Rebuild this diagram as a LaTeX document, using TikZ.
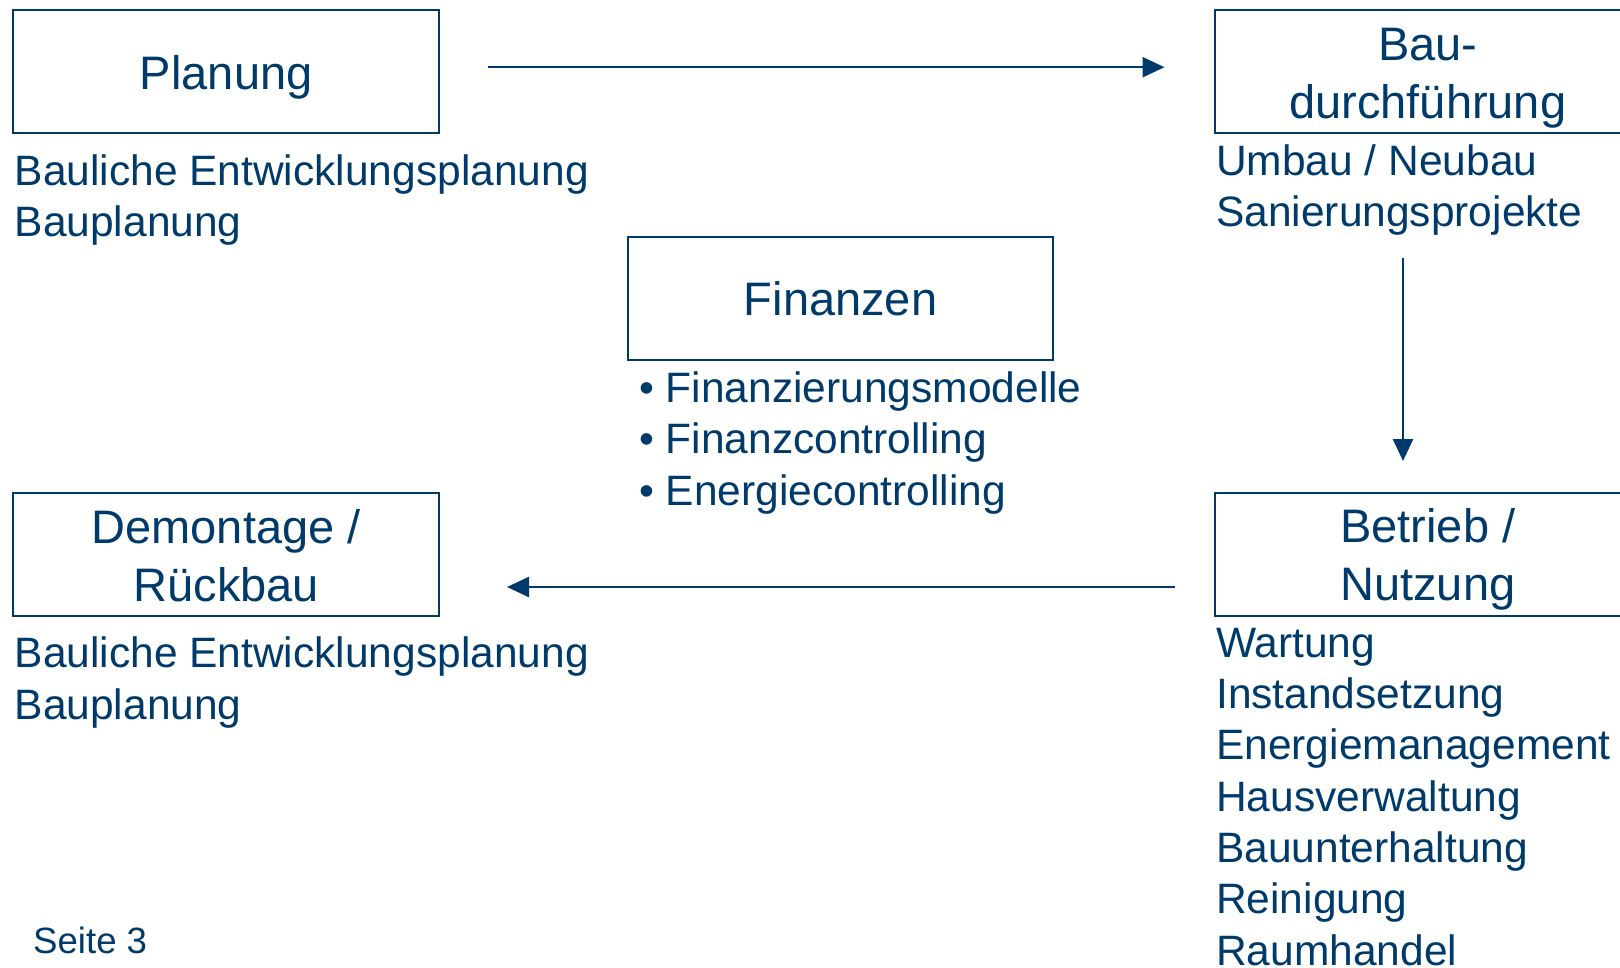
\documentclass[tikz,border=0pt]{standalone}
\usepackage{fontspec}
\setmainfont{Liberation Sans}
\usetikzlibrary{arrows.meta}
\definecolor{navy}{HTML}{003A6A}
\newcommand\bxs{\rule[-0.19em]{0pt}{1.14em}}
\begin{document}
\begin{tikzpicture}[x=1pt,y=-1pt,
  box/.style={draw=navy, line width=2pt, minimum width=425.6pt, minimum height=123pt, inner sep=0pt, align=center, text=navy, font=\fontsize{47}{58}\selectfont},
  lst/.style={anchor=base west, align=left, text=navy, inner sep=0pt, font=\fontsize{42.5}{51.3}\selectfont},
  arr/.style={draw=navy, line width=2.5pt, -{Triangle[length=22pt,width=20pt]}}]
\useasboundingbox (0,0) rectangle (1620,967);
\clip (0,0) rectangle (1620,967);
% boxes
\node[box] (plan) at (226.2,71.8) {\bxs Planung};
\node[box] (bau) at (1427.8,71.8) {\bxs Bau-\\\bxs durchführung};
\node[box] (fin) at (840.6,298.1) {\bxs Finanzen};
\node[box] (dem) at (226.2,554.3) {\bxs Demontage /\\\bxs Rückbau};
\node[box] (betr) at (1427.8,554.3) {\bxs Betrieb /\\\bxs Nutzung};
% lists (base anchor = baseline of the last line)
\node[lst] (planlist) at (14.5,236.8) {Bauliche Entwicklungsplanung\\Bauplanung};
\node[lst] (baulist) at (1216,226.3) {Umbau / Neubau\\Sanierungsprojekte};
\node[lst] (finlist) at (639,505) {• Finanzierungsmodelle\\• Finanzcontrolling\\• Energiecontrolling};
\node[lst] (demlist) at (14.5,719.2) {Bauliche Entwicklungsplanung\\Bauplanung};
\node[lst] (betrlist) at (1216,965) {Wartung\\Instandsetzung\\Energiemanagement\\Hausverwaltung\\Bauunterhaltung\\Reinigung\\Raumhandel};
\node[anchor=base west, inner sep=0pt, text=navy, font=\fontsize{36.6}{44}\selectfont] (seite) at (33,953.5) {Seite 3};
% arrows
\draw[arr] ([xshift=47.6pt,yshift=4.6pt]plan.east) -- ([xshift=-49.5pt,yshift=4.6pt]bau.west);
\draw[arr] ([xshift=-24.8pt,yshift=-123.7pt]bau.south) -- ([xshift=-24.8pt,yshift=30.8pt]betr.north);
\draw[arr] ([xshift=-39.2pt,yshift=-32.7pt]betr.west) -- ([xshift=67pt,yshift=-32.7pt]dem.east);
\end{tikzpicture}
\end{document}
